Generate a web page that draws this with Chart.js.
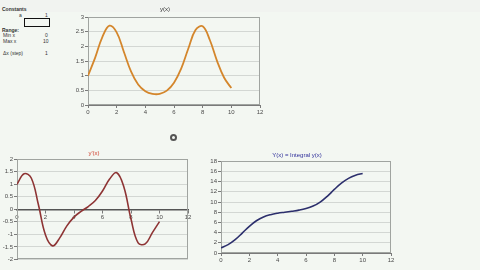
<!DOCTYPE html>
<html>
<head>
<meta charset="utf-8">
<script src="https://cdn.jsdelivr.net/npm/chart.js@4.4.1/dist/chart.umd.min.js"></script>
<style>
  html, body { margin: 0; padding: 0; }
  body { width: 480px; height: 270px; background: #f3f7f2; position: relative; overflow: hidden;
         font-family: "Liberation Sans", Arial, sans-serif; }
  .strip { position: absolute; left: 0; top: 0; width: 480px; height: 12px; background: #f1f3f0; }
  .cell { position: absolute; font-size: 5px; color: #333; white-space: nowrap; line-height: 6px; }
  .bold { font-weight: bold; }
  .box { position: absolute; left: 24px; top: 18px; width: 24px; height: 7px; border: 1px solid #111; }
  .cursor { position: absolute; left: 170px; top: 134px; width: 3px; height: 3px; border: 2px solid #555; border-radius: 50%; }
  canvas { position: absolute; }
</style>
</head>
<body>
<div class="strip"></div>

<!-- spreadsheet cells at top left -->
<div class="cell bold" style="left:2px; top:6px;">Constants</div>
<div class="cell" style="left:19px; top:12px;">a</div>
<div class="cell" style="left:45px; top:12px;">1</div>
<div class="box"></div>
<div class="cell bold" style="left:2px; top:27px;">Range:</div>
<div class="cell" style="left:3px; top:32px;">Min x</div>
<div class="cell" style="left:45px; top:32px;">0</div>
<div class="cell" style="left:3px; top:38px;">Max x</div>
<div class="cell" style="left:43px; top:38px;">10</div>
<div class="cell" style="left:3px; top:50px;">Δx (step)</div>
<div class="cell" style="left:45px; top:50px;">1</div>
<div class="cursor"></div>

<canvas id="chartY" width="200" height="118" style="left:70px; top:0px;"></canvas>
<canvas id="chartDY" width="196" height="119" style="left:0px; top:145px;"></canvas>
<canvas id="chartInt" width="196" height="118" style="left:203px; top:147px;"></canvas>

<script>
const xValues = [0, 0.5, 1, 1.5, 2, 2.5, 3, 3.5, 4, 4.5, 5, 5.5, 6, 6.5, 7, 7.5, 8, 8.5, 9, 9.5, 10];
// y(x)
const yValues = [1.00, 1.62, 2.32, 2.71, 2.48, 1.82, 1.15, 0.70, 0.47, 0.38, 0.38,
                 0.49, 0.76, 1.24, 1.93, 2.56, 2.69, 2.22, 1.51, 0.93, 0.58];
// y'(x)
const dyValues = [1.00, 1.42, 1.25, 0.19, -1.03, -1.46, -1.14, -0.66, -0.31, -0.08, 0.11,
                  0.35, 0.73, 1.21, 1.46, 0.89, -0.39, -1.34, -1.38, -0.93, -0.49];
// Y(x) = Integral y(x)
const intValues = [1.00, 1.65, 2.63, 3.91, 5.24, 6.32, 7.06, 7.51, 7.80, 8.00, 8.19,
                   8.40, 8.71, 9.20, 9.98, 11.12, 12.46, 13.70, 14.64, 15.24, 15.60];

const xTicks = { min: 0, max: 12, step: 2 };

const tickFont = { family: "Liberation Sans, Arial, sans-serif", size: 6 };
const tickColor = "#4a4a4a";
const gridColor = "#d3d7d3";
const axisColor = "#7a7a7a";

// grey frame round the plot area, like the spreadsheet chart
const plotBorder = {
  id: "plotBorder",
  beforeDatasetsDraw(chart) {
    const { ctx, chartArea: a } = chart;
    ctx.save();
    ctx.strokeStyle = "#a0a4a0";
    ctx.lineWidth = 1;
    ctx.strokeRect(Math.round(a.left) + 0.5, Math.round(a.top) + 0.5,
                   Math.round(a.width) - 1, Math.round(a.height) - 1);
    ctx.restore();
  }
};

function points(ys) {
  return xValues.map((x, i) => ({ x: x, y: ys[i] }));
}

// spreadsheet style numbers: 3, 2.5, 2 ... (no trailing .0)
const plainLabel = (value) => String(Math.round(value * 100) / 100);

function makeChart(id, cfg) {
  return new Chart(document.getElementById(id).getContext("2d"), {
    type: "line",
    data: {
      datasets: [{
        data: points(cfg.values),
        borderColor: cfg.color,
        borderWidth: cfg.width || 1.6,
        pointRadius: 0,
        tension: 0.4,
        fill: false
      }]
    },
    plugins: [plotBorder],
    options: {
      responsive: false,
      animation: false,
      layout: { padding: cfg.padding },
      plugins: {
        legend: { display: false },
        tooltip: { enabled: false },
        title: {
          display: true,
          text: cfg.title,
          color: cfg.titleColor,
          font: { family: "Liberation Sans, Arial, sans-serif", size: 6, weight: "normal" },
          padding: cfg.titlePad
        }
      },
      scales: {
        x: {
          type: "linear",
          position: cfg.xPosition || "bottom",
          min: xTicks.min,
          max: xTicks.max,
          afterFit: (scale) => { scale.height = cfg.xHeight || 13; },
          border: { display: true, color: cfg.xAxisColor || axisColor, width: cfg.xAxisWidth || 1 },
          grid: { drawOnChartArea: false, drawTicks: true, tickLength: 3, color: axisColor },
          ticks: { stepSize: xTicks.step, font: tickFont, color: tickColor, padding: 1, maxRotation: 0,
                   callback: plainLabel }
        },
        y: {
          min: cfg.yMin,
          max: cfg.yMax,
          afterFit: (scale) => { scale.width = cfg.yWidth; },
          border: { display: true, color: axisColor },
          grid: { color: gridColor, tickLength: 3, tickColor: axisColor },
          ticks: { stepSize: cfg.yStep, font: tickFont, color: tickColor, padding: 1,
                   callback: plainLabel }
        }
      }
    }
  });
}

makeChart("chartY", {
  values: yValues,
  color: "#d4862c",
  width: 1.8,
  title: "y(x)",
  titleColor: "#333333",
  titlePad: { top: 6, bottom: 4 },
  padding: { left: 0, right: 10, top: 0, bottom: 0 },
  yMin: 0, yMax: 3, yStep: 0.5, yWidth: 18,
  xHeight: 13
});

makeChart("chartDY", {
  values: dyValues,
  color: "#8e3434",
  title: "y'(x)",
  titleColor: "#d0402e",
  titlePad: { top: 5, bottom: 2 },
  padding: { left: 0, right: 8, top: 0, bottom: 4 },
  yMin: -2, yMax: 2, yStep: 0.5, yWidth: 17,
  xPosition: { y: 0 },
  xAxisColor: "#555555",
  xAxisWidth: 1.5
});

makeChart("chartInt", {
  values: intValues,
  color: "#2c2f6c",
  title: "Y(x) = Integral y(x)",
  titleColor: "#2e2e9a",
  titlePad: { top: 5, bottom: 2 },
  padding: { left: 0, right: 8, top: 0, bottom: 0 },
  yMin: 0, yMax: 18, yStep: 2, yWidth: 18,
  xHeight: 12
});
</script>
</body>
</html>
